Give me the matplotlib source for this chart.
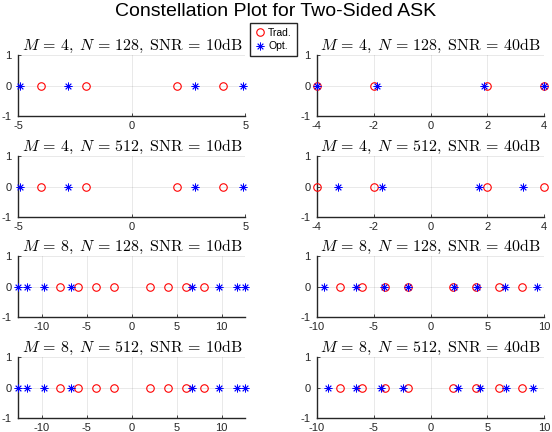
import matplotlib
matplotlib.use('Agg')
import matplotlib.pyplot as plt
from matplotlib.lines import Line2D

plt.rcParams['mathtext.fontset'] = 'cm'
plt.rcParams['font.family'] = ['Liberation Sans', 'DejaVu Sans']
plt.rcParams['axes.unicode_minus'] = False

# constellation points
trad_m4 = [-4, -2, 2, 4]
trad_m8 = [-8, -6, -4, -2, 2, 4, 6, 8]

opt_m4_n128_10 = [-4.9, -2.8, 2.8, 4.9]
opt_m4_n128_40 = [-3.98, -1.87, 1.87, 3.98]
opt_m4_n512_10 = [-4.9, -2.8, 2.8, 4.9]
opt_m4_n512_40 = [-3.25, -1.7, 1.7, 3.25]
opt_m8_n128_10 = [-12.65, -11.7, -9.75, -6.75, 6.75, 9.75, 11.7, 12.65]
opt_m8_n128_40 = [-9.33, -6.56, -4.08, -2.02, 2.02, 4.08, 6.56, 9.33]
opt_m8_n512_10 = [-12.65, -11.7, -9.75, -6.75, 6.75, 9.75, 11.7, 12.65]
opt_m8_n512_40 = [-9.0, -6.6, -4.37, -2.4, 2.4, 4.37, 6.6, 9.0]

M_vals = [4, 4, 4, 4, 8, 8, 8, 8]
N_vals = [128, 128, 512, 512, 128, 128, 512, 512]
snr_vals = [10, 40, 10, 40, 10, 40, 10, 40]
trad_list = [trad_m4] * 4 + [trad_m8] * 4
opt_list = [opt_m4_n128_10, opt_m4_n128_40, opt_m4_n512_10, opt_m4_n512_40,
            opt_m8_n128_10, opt_m8_n128_40, opt_m8_n512_10, opt_m8_n512_40]
xlims = [5, 4, 5, 4, 12.65, 10, 12.65, 10]
xticks = [[-5, 0, 5], [-4, -2, 0, 2, 4], [-5, 0, 5], [-4, -2, 0, 2, 4],
          [-10, -5, 0, 5, 10], [-10, -5, 0, 5, 10],
          [-10, -5, 0, 5, 10], [-10, -5, 0, 5, 10]]

fig = plt.figure(figsize=(5.52, 4.32), dpi=100)

lefts = [0.0326, 0.574]
bottoms = [0.7315, 0.4977, 0.2662, 0.0324]
w, h = 0.412, 0.141
axcol = '#262626'

for i in range(8):
    r, c = i // 2, i % 2
    ax = fig.add_axes([lefts[c], bottoms[r], w, h])
    zeros_t = [0] * len(trad_list[i])
    zeros_o = [0] * len(opt_list[i])
    ax.plot(trad_list[i], zeros_t, 'o', mfc='none', mec='red', ms=5.4, mew=0.8,
            ls='none', clip_on=False, zorder=3)
    ax.plot(opt_list[i], zeros_o, ls='none', marker=(8, 2, 0), color='blue',
            ms=5.6, mew=0.6, clip_on=False, zorder=4)
    ax.set_xlim(-xlims[i], xlims[i])
    ax.set_ylim(-1, 1)
    ax.set_xticks(xticks[i])
    ax.set_yticks([-1, 0, 1])
    ax.grid(True, color='#262626', alpha=0.1, lw=0.7)
    ax.set_axisbelow(True)
    for s in ['top', 'right']:
        ax.spines[s].set_visible(False)
    for s in ['left', 'bottom']:
        ax.spines[s].set_color(axcol)
        ax.spines[s].set_linewidth(1.0)
    ax.tick_params(direction='in', length=2.5, width=0.6, colors=axcol,
                   labelsize=8)
    ax.tick_params(axis='x', pad=3.5)
    ax.tick_params(axis='y', pad=4.5)
    ax.set_title(r'$M\,=\,%d,\;N\,=\,%d,\;\mathrm{SNR}\,=\,%d\mathrm{dB}$'
                 % (M_vals[i], N_vals[i], snr_vals[i]), fontsize=11.5, pad=3)

fig.suptitle('Constellation Plot for Two-Sided ASK', fontsize=14, y=0.992)

handles = [Line2D([], [], ls='none', marker='o', mfc='none', mec='red', ms=5.4, mew=0.8),
           Line2D([], [], ls='none', marker=(8, 2, 0), color='blue', ms=5.6, mew=0.6)]
fig.legend(handles, ['Trad.', 'Opt.'], loc='upper left',
           bbox_to_anchor=(250 / 552, 1 - 23 / 432), fontsize=7.5,
           frameon=True, fancybox=False, edgecolor=axcol, framealpha=1,
           handletextpad=0.3, borderpad=0.45, labelspacing=0.35,
           handlelength=1.0, borderaxespad=0)

fig.savefig('out.png', dpi=100)
